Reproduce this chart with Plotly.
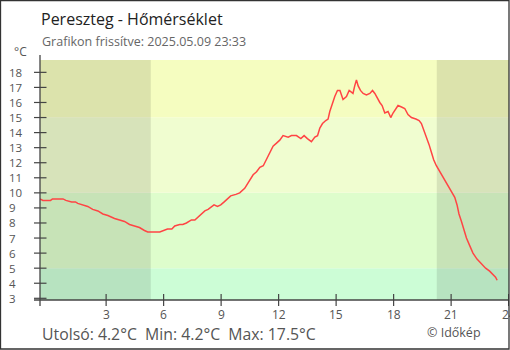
import plotly.graph_objects as go

# Hourly position (hours from midnight) and temperature in °C
hours = [
    -0.45, -0.3, 0.1, 0.2, 0.75, 0.9, 1.2, 1.4, 1.52, 1.78, 2.04, 2.3, 2.57, 2.83,
    3.09, 3.44, 3.7, 3.96, 4.22, 4.48, 4.74, 5.0, 5.17, 5.8, 5.97, 6.2, 6.43, 6.58,
    6.84, 7.0, 7.19, 7.45, 7.63, 7.8, 7.97, 8.15, 8.32, 8.5, 8.63, 8.81, 8.98, 9.16,
    9.33, 9.5, 9.77, 9.97, 10.23, 10.37, 10.5, 10.67, 10.85, 11.02, 11.2, 11.37,
    11.54, 11.71, 11.89, 12.06, 12.23, 12.5, 12.67, 12.93, 13.16, 13.33, 13.5, 13.71,
    13.89, 14.03, 14.15, 14.29, 14.46, 14.58, 14.67, 14.79, 14.93, 15.07, 15.2,
    15.36, 15.54, 15.68, 15.88, 15.97, 16.06, 16.15, 16.27, 16.41, 16.58, 16.76,
    16.9, 17.02, 17.14, 17.28, 17.4, 17.54, 17.71, 17.85, 17.97, 18.11, 18.23,
    18.41, 18.58, 18.75, 18.93, 19.16, 19.33, 19.45, 19.57, 19.71, 19.85, 19.97,
    20.09, 20.23, 20.37, 20.5, 20.67, 20.84, 21.02, 21.19, 21.31, 21.41, 21.54,
    21.66, 21.8, 21.97, 22.14, 22.35, 22.58, 22.8, 23.01, 23.19, 23.32, 23.4,
]
temps = [
    9.6, 9.5, 9.5, 9.6, 9.6, 9.5, 9.4, 9.4, 9.3, 9.2, 9.1, 8.9, 8.8, 8.6,
    8.5, 8.3, 8.2, 8.1, 7.9, 7.8, 7.7, 7.5, 7.4, 7.4, 7.5, 7.6, 7.6, 7.8,
    7.9, 7.9, 8.0, 8.2, 8.2, 8.4, 8.6, 8.8, 8.9, 9.1, 9.2, 9.1, 9.2, 9.4,
    9.6, 9.8, 9.9, 10.0, 10.3, 10.6, 10.9, 11.2, 11.4, 11.7, 11.8, 12.2,
    12.6, 13.1, 13.3, 13.5, 13.8, 13.7, 13.8, 13.8, 13.6, 13.8, 13.6, 13.4,
    13.7, 13.8, 14.3, 14.6, 14.8, 14.9, 15.4, 15.9, 16.4, 16.8, 16.8,
    16.2, 16.4, 16.8, 16.6, 17.1, 17.5, 17.1, 16.8, 16.6, 16.5, 16.6,
    16.8, 16.6, 16.3, 16.0, 15.8, 15.3, 15.4, 15.0, 15.3, 15.6, 15.8,
    15.7, 15.6, 15.2, 15.0, 14.9, 14.8, 14.6, 14.2, 13.7, 13.2, 12.7,
    12.2, 11.8, 11.5, 11.2, 10.8, 10.5, 10.1, 9.7, 9.2, 8.6, 8.1,
    7.5, 7.0, 6.5, 6.0, 5.6, 5.3, 5.0, 4.8, 4.6, 4.4, 4.2,
]

x_ticks = [3, 6, 9, 12, 15, 18, 21, 24]
y_ticks = list(range(3, 19))

# Temperature zones (lower bound, upper bound, colour)
zone_edges = [2.0, 5, 10, 15, 20.0]
zone_colors = ["#ccfdd6", "#defdcc", "#f0fdd0", "#f5fdc0"]

# Night periods (before sunrise / after sunset)
sunrise = 5.33
sunset = 20.25

x_range = [-0.45, 24.02]
y_range = [2.887, 18.82]

W, H = 510, 350
ML, MR, MT, MB = 40, 1, 60, 50
PW, PH = W - ML - MR, H - MT - MB


def px(x):
    return (x - ML) / PW


def py(y):
    return (H - MB - y) / PH


AXIS = "#444444"
TEXT = "#555555"
FONT = "Open Sans"

last_t = temps[-1]
min_t = min(temps)
max_t = max(temps)

fig = go.Figure()
fig.add_trace(go.Scatter(
    x=hours, y=temps, mode="lines",
    line=dict(color="#ff4444", width=1.5),
    hoverinfo="skip", showlegend=False,
))

shapes = []
for lo, hi, col in zip(zone_edges[:-1], zone_edges[1:], zone_colors):
    shapes.append(dict(type="rect", xref="x", yref="y", x0=x_range[0], x1=x_range[1],
                       y0=lo, y1=hi, fillcolor=col, line_width=0, layer="below"))
for a, b in [(x_range[0], sunrise), (sunset, x_range[1])]:
    shapes.append(dict(type="rect", xref="x", yref="y", x0=a, x1=b,
                       y0=zone_edges[0], y1=zone_edges[-1],
                       fillcolor="rgba(0,0,0,0.1)", line_width=0, layer="below"))

# axis lines, slightly extended
shapes.append(dict(type="line", xref="paper", yref="paper", x0=0, x1=0,
                   y0=py(306), y1=py(55), line=dict(color=AXIS, width=1.3)))
shapes.append(dict(type="line", xref="paper", yref="paper", x0=px(34), x1=1,
                   y0=0, y1=0, line=dict(color=AXIS, width=1.3)))
# crossing tick marks
for v in y_ticks:
    shapes.append(dict(type="line", xref="paper", yref="y", x0=px(34), x1=px(46.5),
                       y0=v, y1=v, line=dict(color=AXIS, width=1.2)))
for v in x_ticks:
    shapes.append(dict(type="line", xref="x", yref="paper", x0=v, x1=v,
                       y0=py(306), y1=py(294), line=dict(color=AXIS, width=1.2)))
# outer frame
shapes.append(dict(type="rect", xref="paper", yref="paper", x0=px(0.5), x1=px(509),
                   y0=py(349), y1=py(0.5), line=dict(color="#333333", width=1.3),
                   fillcolor="rgba(0,0,0,0)"))

annotations = []
for v in y_ticks:
    annotations.append(dict(text=str(v), xref="paper", yref="y", x=px(6.5), y=v,
                            xanchor="left", yanchor="middle", showarrow=False,
                            font=dict(family=FONT, size=11.5, color=TEXT)))
for v in x_ticks:
    annotations.append(dict(text=str(v), xref="x", yref="paper", x=v, y=py(314),
                            xanchor="center", yanchor="middle", showarrow=False,
                            font=dict(family=FONT, size=12, color=TEXT)))

annotations += [
    dict(text="Pereszteg - Hőmérséklet", xref="paper", yref="paper", x=px(39), y=py(19),
         xanchor="left", yanchor="middle", showarrow=False,
         font=dict(family=FONT, size=16, color="#222222")),
    dict(text="Grafikon frissítve: 2025.05.09 23:33", xref="paper", yref="paper",
         x=px(39.5), y=py(41), xanchor="left", yanchor="middle", showarrow=False,
         font=dict(family=FONT, size=12.5, color="#666666")),
    dict(text="°C", xref="paper", yref="paper", x=px(11.5), y=py(51.5),
         xanchor="left", yanchor="middle", showarrow=False,
         font=dict(family=FONT, size=12, color=TEXT)),
    dict(text=f"Utolsó: {last_t:.1f}°C  Min: {min_t:.1f}°C  Max: {max_t:.1f}°C",
         xref="paper", yref="paper", x=px(39.5), y=py(334), xanchor="left",
         yanchor="middle", showarrow=False,
         font=dict(family=FONT, size=15.8, color=TEXT)),
    dict(text="© Időkép", xref="paper", yref="paper", x=px(424.5), y=py(332),
         xanchor="left", yanchor="middle", showarrow=False,
         font=dict(family=FONT, size=12.5, color=TEXT)),
]

fig.update_layout(
    width=W, height=H,
    margin=dict(l=ML, r=MR, t=MT, b=MB, pad=0),
    paper_bgcolor="white", plot_bgcolor="white",
    shapes=shapes, annotations=annotations,
    xaxis=dict(range=x_range, showgrid=False, zeroline=False, showline=False,
               showticklabels=False, ticks="", fixedrange=True),
    yaxis=dict(range=y_range, showgrid=False, zeroline=False, showline=False,
               showticklabels=False, ticks="", fixedrange=True),
    font=dict(family=FONT),
)

fig.write_html("out.html", config={"displayModeBar": False})
